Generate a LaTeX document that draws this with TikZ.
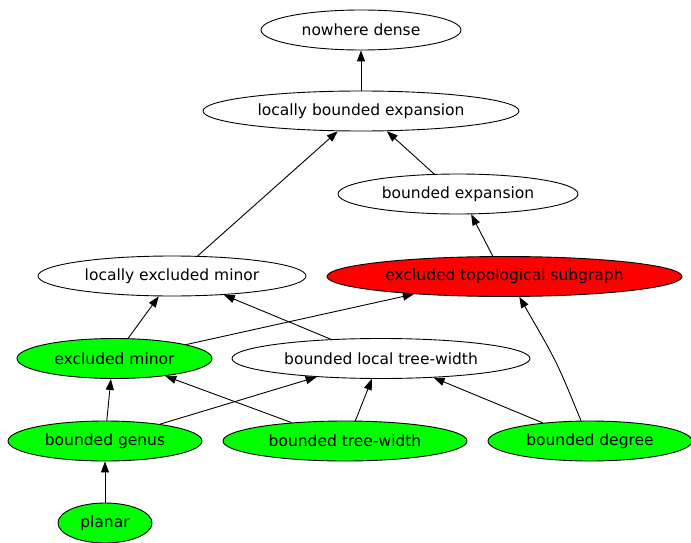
\documentclass[tikz,border=0pt]{standalone}
\usepackage{fontspec}
\setmainfont{DejaVu Sans}
\usetikzlibrary{arrows.meta,shapes.geometric}
\begin{document}
\begin{tikzpicture}[x=1pt,y=-1pt,font=\fontsize{15.5}{18}\selectfont,
  cls/.style={draw,ellipse,line width=0.9pt,inner sep=0pt,minimum height=40pt},
  easy/.style={cls,fill=green},
  hard/.style={cls,fill=red},
  imp/.style={-{Triangle[length=11pt,width=8pt]},line width=0.9pt}]
\useasboundingbox (0,0) rectangle (691,543);
% classes, top to bottom
\node[cls,minimum width=200pt] (nd) at (361,30) {nowhere dense};
\node[cls,minimum width=316pt] (lbe) at (361,111) {locally bounded expansion};
\node[cls,minimum width=240pt] (bexp) at (458,194) {bounded expansion};
\node[cls,minimum width=268pt] (lem) at (172,276) {locally excluded minor};
\node[hard,minimum width=355pt] (ets) at (504.5,276.5) {excluded topological subgraph};
\node[easy,minimum width=195pt] (exm) at (114.5,358.5) {excluded minor};
\node[cls,minimum width=298pt] (blt) at (381,358.5) {bounded local tree-width};
\node[easy,minimum width=194pt] (bgen) at (105,441) {bounded genus};
\node[easy,minimum width=244pt] (btw) at (345,441) {bounded tree-width};
\node[easy,minimum width=204pt] (bdeg) at (590,441) {bounded degree};
\node[easy,minimum width=94pt] (planar) at (105,523) {planar};
% inclusions
\draw[imp] (lbe.north) -- (nd.south);
\draw[imp] (bexp.140) -- (lbe.-38);
\draw[imp] (lem.38) -- (lbe.-139);
\draw[imp] (ets.120) -- (bexp.-57);
\draw[imp] (exm.56) -- (lem.-123);
\draw[imp] (exm.11) -- (ets.-169);
\draw[imp] (blt.159) -- (lem.-20);
\draw[imp] (bgen.85) -- (exm.-100);
\draw[imp] (bgen.17) -- (blt.-164);
\draw[imp] (btw.161) -- (exm.-19);
\draw[imp] (btw.63) -- (blt.-114);
\draw[imp] (bdeg.159) -- (blt.-20);
\draw[imp] (bdeg.114) .. controls (557,362) .. (ets.-54);
\draw[imp] (planar.north) -- (bgen.south);
\end{tikzpicture}
\end{document}
